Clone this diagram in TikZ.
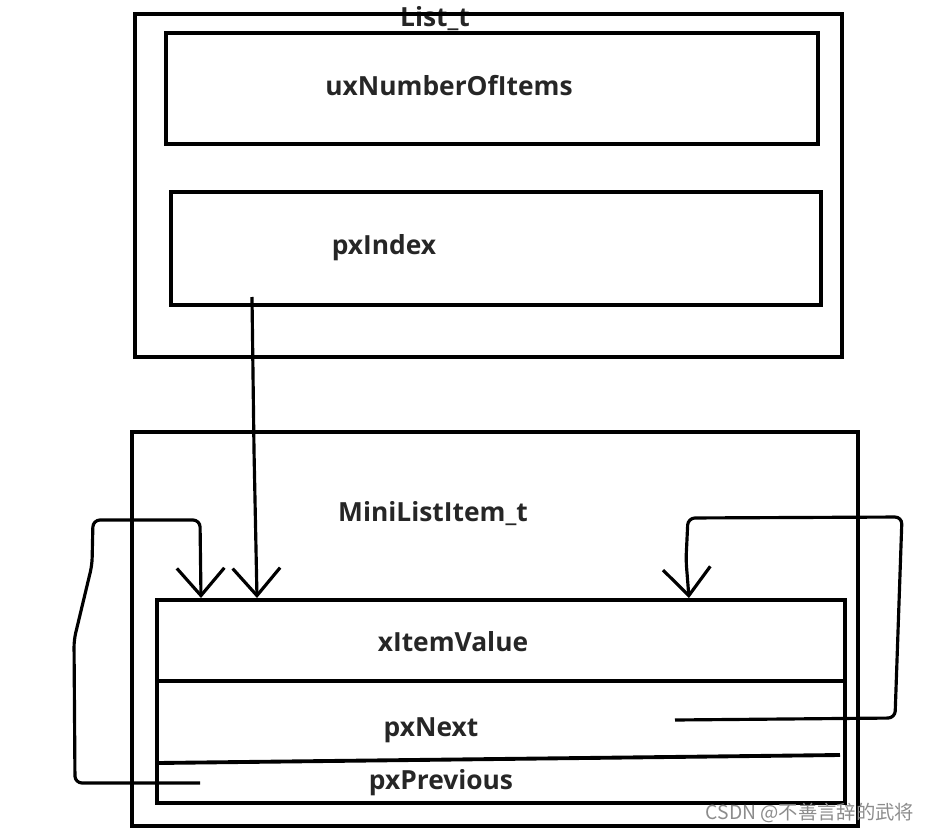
\documentclass[tikz,border=0pt]{standalone}
\usepackage{fontspec}
\setmainfont{Open Sans}
\newfontfamily\cjk{Noto Sans CJK SC}
\usetikzlibrary{arrows.meta}
\begin{document}
\begin{tikzpicture}[
    x=0.02cm, y=-0.02cm,
    box/.style={draw, line width=2.2pt, inner sep=0pt},
    lbl/.style={font=\fontsize{15}{18}\selectfont\bfseries, text=black!85, inner sep=0pt},
    ptr/.style={line width=1.8pt, rounded corners=4pt, -{Straight Barb[length=0.55cm, width=0.95cm]}},
  ]
    \useasboundingbox (0,0) rectangle (931,832);

    % List_t
    \node[lbl] (listlbl)  at (435,19)  {List\_t};
    \node[box, minimum width=14.14cm, minimum height=6.86cm] (list)  at (488.5,185.5) {};
    \node[box, minimum width=13.04cm, minimum height=2.22cm] (count) at (492,88.5) {};
    \node[box, minimum width=13.00cm, minimum height=2.26cm] (index) at (496,248.5) {};
    \node[lbl] (countlbl) at (449,86)  {uxNumberOfItems};
    \node[lbl] (indexlbl) at (384,248) {pxIndex};

    % MiniListItem_t
    \node[box, minimum width=14.52cm, minimum height=7.88cm] (item)  at (495,629) {};
    \node[box, minimum width=13.76cm, minimum height=4.06cm] (inner) at (501,701.5) {};
    \node[box, minimum width=13.76cm, minimum height=1.62cm] (value) at (501,640.5) {};
    \draw[line width=2.2pt] (158,763) -- (840,755);
    \node[lbl] (itemlbl)  at (433,514) {MiniListItem\_t};
    \node[lbl] (valuelbl) at (453,642) {xItemValue};
    \node[lbl] (nextlbl)  at (431,730) {pxNext};
    \node[lbl] (prevlbl)  at (441,783) {pxPrevious};

    % pointers
    \coordinate (idxsrc)  at (252,297);
    \coordinate (nextsrc) at (675,720);
    \coordinate (prevsrc) at (200,783);
    \draw[ptr] (idxsrc) -- (254,450) -- (257,598);
    \draw[ptr] (nextsrc) -- (895,718) -- (902,517) -- (688,518) -- (686,560) -- (689,598);
    \draw[ptr] (prevsrc) -- (75,783) -- (74,640) -- (92,565) -- (93,520) -- (200,520) -- (201,598);

    \node[font=\cjk\fontsize{11}{13}\selectfont, text=black!45, inner sep=0pt] (mark) at (810,813) {CSDN @不善言辞的武将};
  \end{tikzpicture}
\end{document}
